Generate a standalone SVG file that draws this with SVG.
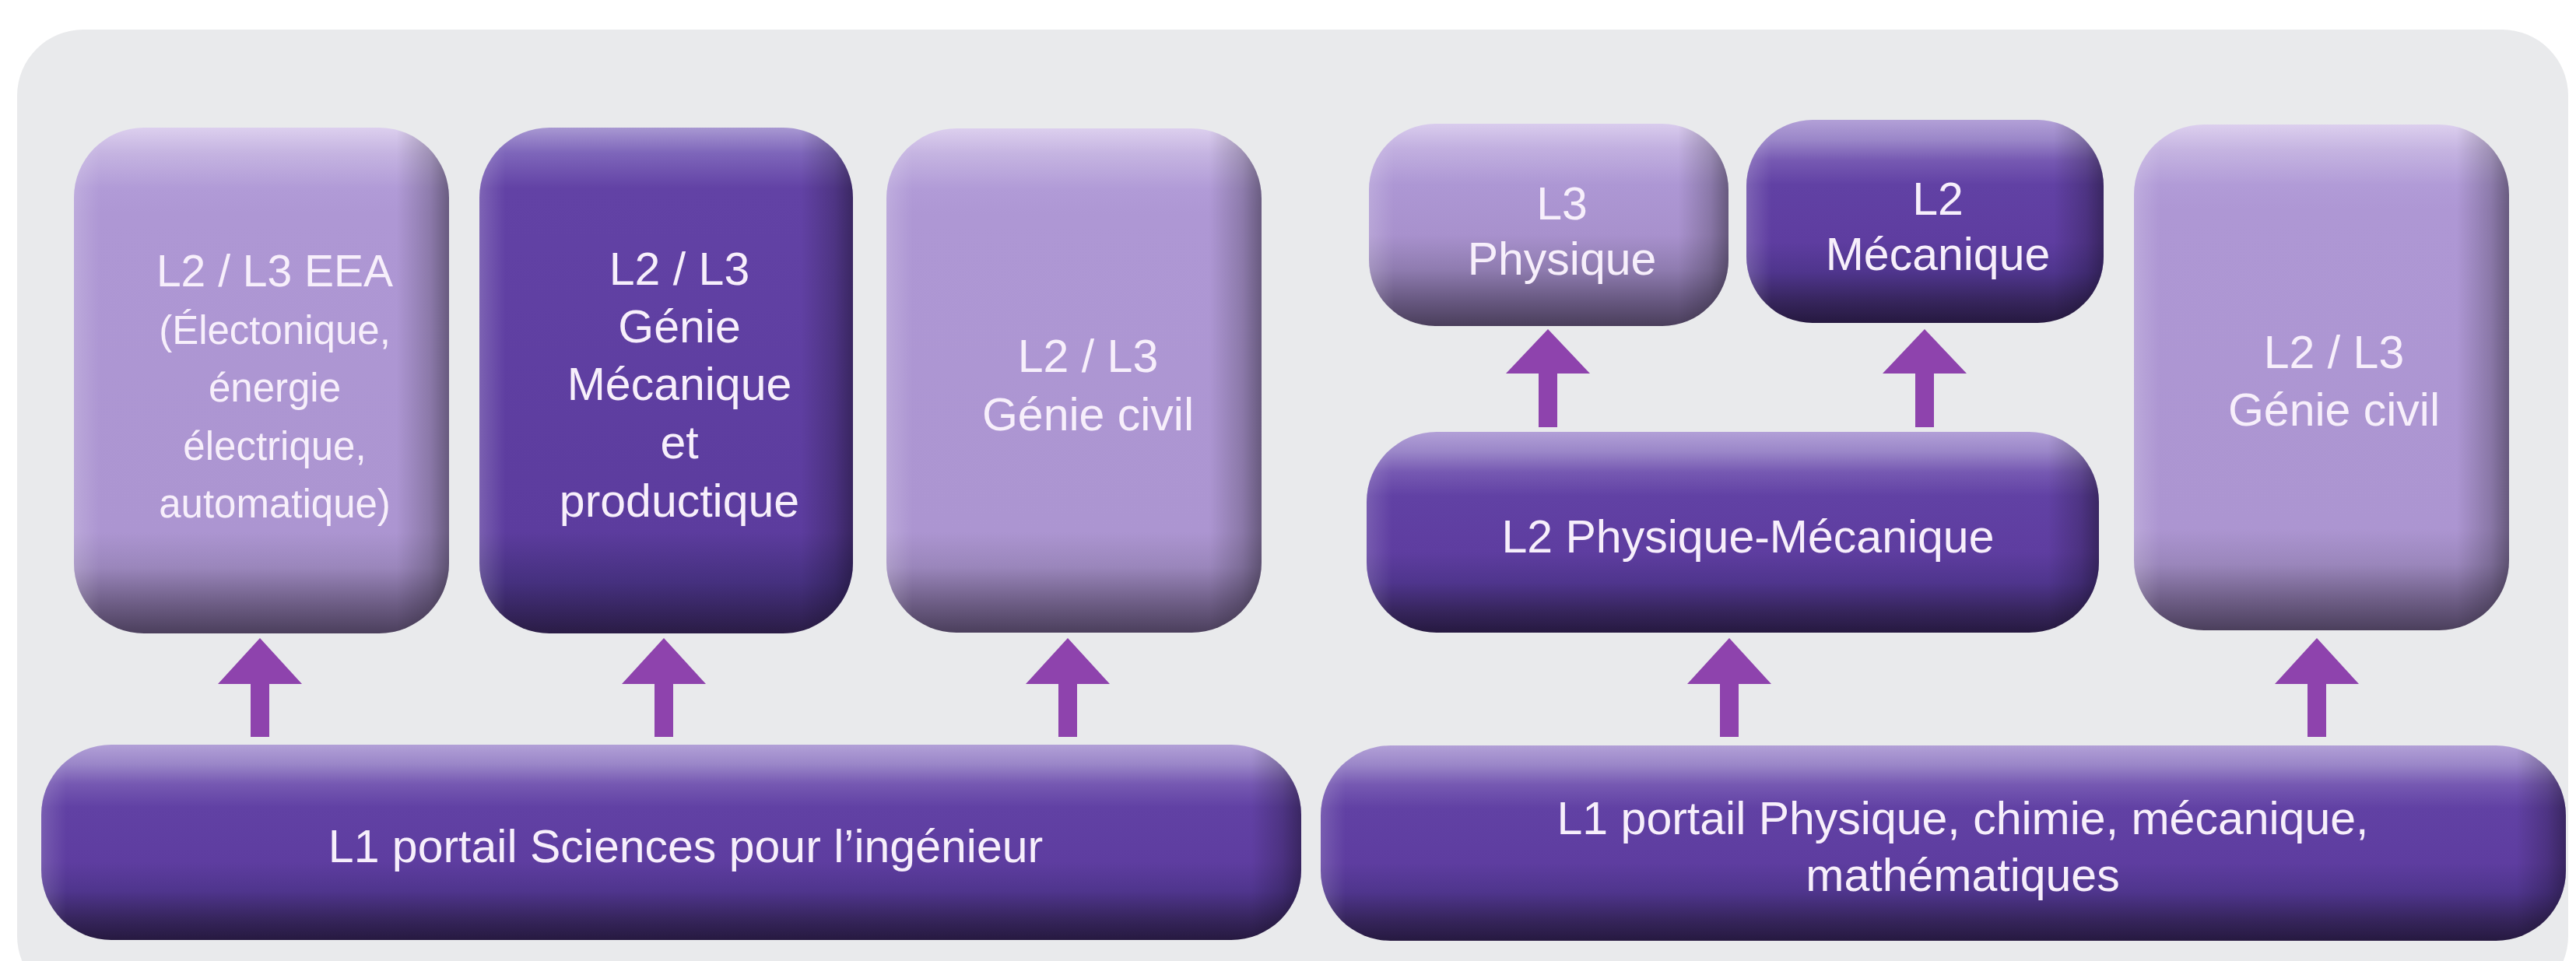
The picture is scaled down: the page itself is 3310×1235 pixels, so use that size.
<svg xmlns="http://www.w3.org/2000/svg" width="3310" height="1235" viewBox="0 0 3310 1235">
<defs>
<style>
.t{font-family:"Liberation Sans",Arial,Helvetica,sans-serif;fill:#f7effb;text-anchor:middle;font-size:59px}
.s{font-size:51px}
.h{font-size:57px}
.arrow{fill:#8e43ad}
</style>
<linearGradient id="lightTall" x1="0" y1="0" x2="0" y2="1">
<stop offset="0" stop-color="#dccfee"/><stop offset="0.05" stop-color="#c5b4e1"/><stop offset="0.12" stop-color="#b19bd7"/><stop offset="0.17" stop-color="#ae97d4"/><stop offset="0.8" stop-color="#ac95d1"/><stop offset="0.87" stop-color="#9a86bb"/><stop offset="0.94" stop-color="#6e5e86"/><stop offset="1" stop-color="#4b3f5c"/>
</linearGradient>
<linearGradient id="lightShort" x1="0" y1="0" x2="0" y2="1">
<stop offset="0" stop-color="#d9cced"/><stop offset="0.12" stop-color="#c2b0e0"/><stop offset="0.3" stop-color="#ad97d4"/><stop offset="0.55" stop-color="#a891cd"/><stop offset="0.72" stop-color="#8f7cb0"/><stop offset="0.88" stop-color="#66577f"/><stop offset="1" stop-color="#4a3e5b"/>
</linearGradient>
<linearGradient id="darkTall" x1="0" y1="0" x2="0" y2="1">
<stop offset="0" stop-color="#a898d2"/><stop offset="0.05" stop-color="#7e66ba"/><stop offset="0.12" stop-color="#6242a5"/><stop offset="0.8" stop-color="#5c3c9e"/><stop offset="0.9" stop-color="#45307e"/><stop offset="1" stop-color="#2a1c45"/>
</linearGradient>
<linearGradient id="darkShort" x1="0" y1="0" x2="0" y2="1">
<stop offset="0" stop-color="#b2a0d7"/><stop offset="0.1" stop-color="#9a86c8"/><stop offset="0.2" stop-color="#7659b2"/><stop offset="0.32" stop-color="#6141a4"/><stop offset="0.6" stop-color="#5e3da0"/><stop offset="0.75" stop-color="#4f358d"/><stop offset="0.9" stop-color="#35245a"/><stop offset="1" stop-color="#261940"/>
</linearGradient>
<linearGradient id="edgeN" x1="0" y1="0" x2="1" y2="0">
<stop offset="0" stop-color="#fff" stop-opacity="0.18"/><stop offset="0.07" stop-color="#fff" stop-opacity="0"/><stop offset="0.86" stop-color="#000" stop-opacity="0"/><stop offset="0.95" stop-color="#000" stop-opacity="0.2"/><stop offset="1" stop-color="#000" stop-opacity="0.4"/>
</linearGradient>
<linearGradient id="edgeM" x1="0" y1="0" x2="1" y2="0">
<stop offset="0" stop-color="#fff" stop-opacity="0.15"/><stop offset="0.035" stop-color="#fff" stop-opacity="0"/><stop offset="0.93" stop-color="#000" stop-opacity="0"/><stop offset="0.975" stop-color="#000" stop-opacity="0.2"/><stop offset="1" stop-color="#000" stop-opacity="0.4"/>
</linearGradient>
<linearGradient id="edgeW" x1="0" y1="0" x2="1" y2="0">
<stop offset="0" stop-color="#fff" stop-opacity="0.15"/><stop offset="0.02" stop-color="#fff" stop-opacity="0"/><stop offset="0.96" stop-color="#000" stop-opacity="0"/><stop offset="0.985" stop-color="#000" stop-opacity="0.2"/><stop offset="1" stop-color="#000" stop-opacity="0.4"/>
</linearGradient>
</defs>
<rect x="0" y="0" width="3310" height="1235" fill="#ffffff"/>
<rect id="panel" x="22" y="38" width="3278" height="1250" rx="85" fill="#e9eaec"/>

<g id="connectors">
<path class="arrow" d="M334 820 L388 879 L346 879 L346 947 L322 947 L322 879 L280 879 Z"/>
<path class="arrow" d="M853 820 L907 879 L865 879 L865 947 L841 947 L841 879 L799 879 Z"/>
<path class="arrow" d="M1372 820 L1426 879 L1384 879 L1384 947 L1360 947 L1360 879 L1318 879 Z"/>
<path class="arrow" d="M2222 820 L2276 879 L2234 879 L2234 947 L2210 947 L2210 879 L2168 879 Z"/>
<path class="arrow" d="M2977 820 L3031 879 L2989 879 L2989 947 L2965 947 L2965 879 L2923 879 Z"/>
<path class="arrow" d="M1989 423 L2043 480 L2001 480 L2001 549 L1977 549 L1977 480 L1935 480 Z"/>
<path class="arrow" d="M2473 423 L2527 480 L2485 480 L2485 549 L2461 549 L2461 480 L2419 480 Z"/>
</g>

<g id="node-eea">
<rect x="95" y="164" width="482" height="650" rx="90" fill="url(#lightTall)"/>
<rect x="95" y="164" width="482" height="650" rx="90" fill="url(#edgeN)"/>
<text class="t h" x="353" y="368">L2 / L3 EEA</text>
<text class="t s" x="353" y="442">(Électonique,</text>
<text class="t s" x="353" y="516">énergie</text>
<text class="t s" x="353" y="591">électrique,</text>
<text class="t s" x="353" y="665">automatique)</text>
</g>

<g id="node-gm">
<rect x="616" y="164" width="480" height="650" rx="90" fill="url(#darkTall)"/>
<rect x="616" y="164" width="480" height="650" rx="90" fill="url(#edgeN)"/>
<text class="t" x="873" y="366">L2 / L3</text>
<text class="t" x="873" y="440">Génie</text>
<text class="t" x="873" y="514">Mécanique</text>
<text class="t" x="873" y="589">et</text>
<text class="t" x="873" y="664">productique</text>
</g>

<g id="node-gc1">
<rect x="1139" y="165" width="482" height="648" rx="90" fill="url(#lightTall)"/>
<rect x="1139" y="165" width="482" height="648" rx="90" fill="url(#edgeN)"/>
<text class="t" x="1398" y="478">L2 / L3</text>
<text class="t" x="1398" y="553">Génie civil</text>
</g>

<g id="node-l3phys">
<rect x="1759" y="159" width="462" height="260" rx="85" fill="url(#lightShort)"/>
<rect x="1759" y="159" width="462" height="260" rx="85" fill="url(#edgeN)"/>
<text class="t" x="2007" y="282">L3</text>
<text class="t" x="2007" y="353">Physique</text>
</g>

<g id="node-l2meca">
<rect x="2244" y="154" width="459" height="261" rx="85" fill="url(#darkShort)"/>
<rect x="2244" y="154" width="459" height="261" rx="85" fill="url(#edgeN)"/>
<text class="t" x="2490" y="276">L2</text>
<text class="t" x="2490" y="347">Mécanique</text>
</g>

<g id="node-l2pm">
<rect x="1756" y="555" width="941" height="258" rx="90" fill="url(#darkShort)"/>
<rect x="1756" y="555" width="941" height="258" rx="90" fill="url(#edgeM)"/>
<text class="t" x="2246" y="710">L2 Physique-Mécanique</text>
</g>

<g id="node-gc2">
<rect x="2742" y="160" width="482" height="650" rx="90" fill="url(#lightTall)"/>
<rect x="2742" y="160" width="482" height="650" rx="90" fill="url(#edgeN)"/>
<text class="t" x="2999" y="473">L2 / L3</text>
<text class="t" x="2999" y="547">Génie civil</text>
</g>

<g id="node-l1spi">
<rect x="53" y="957" width="1619" height="251" rx="90" fill="url(#darkShort)"/>
<rect x="53" y="957" width="1619" height="251" rx="90" fill="url(#edgeW)"/>
<text class="t" x="881" y="1108">L1 portail Sciences pour l’ingénieur</text>
</g>

<g id="node-l1pcm">
<rect x="1697" y="958" width="1600" height="251" rx="90" fill="url(#darkShort)"/>
<rect x="1697" y="958" width="1600" height="251" rx="90" fill="url(#edgeW)"/>
<text class="t" x="2522" y="1072">L1 portail Physique, chimie, mécanique,</text>
<text class="t" x="2522" y="1145">mathématiques</text>
</g>
</svg>
